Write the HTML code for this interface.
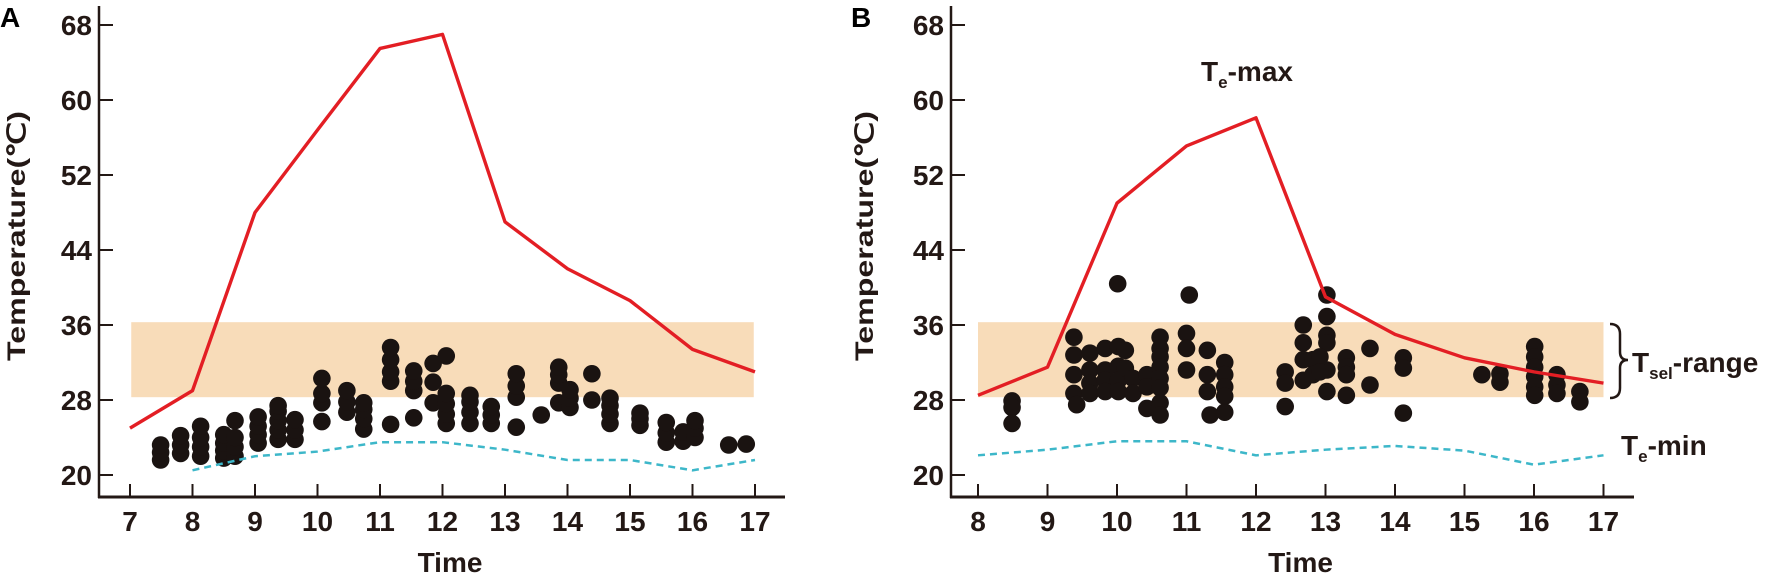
<!DOCTYPE html>
<html><head><meta charset="utf-8"><style>
html,body{margin:0;padding:0;background:#fff;}
svg{display:block;font-family:"Liberation Sans",sans-serif;}
</style></head><body>
<svg id="chart" width="1772" height="581" xmlns="http://www.w3.org/2000/svg"></svg>
<script>
// ---------- Panel A data ----------
const hoursA = [7,8,9,10,11,12,13,14,15,16,17];
const teMaxA = [25,29,48,56.8,65.5,67,47,42,38.6,33.4,31];
const teMinHoursA = [8,9,10,11,12,13,14,15,16,17];
const teMinA = [20.5,22,22.5,23.5,23.5,22.7,21.6,21.6,20.5,21.6];
const dotTimeA = [7.49,7.49,7.49,7.81,7.81,7.81,8.13,8.13,8.13,8.13,8.5,8.5,8.5,8.5,8.68,8.68,8.68,8.68,
 9.05,9.05,9.05,9.05,9.37,9.37,9.37,9.37,9.37,9.64,9.64,9.64,10.07,10.07,10.07,10.07,10.47,10.47,10.47,
 10.74,10.74,10.74,10.74,11.17,11.17,11.17,11.17,11.17,11.54,11.54,11.54,11.54,11.85,11.85,11.85,
 12.06,12.06,12.06,12.06,12.06,12.44,12.44,12.44,12.44,12.78,12.78,12.78,13.18,13.18,13.18,13.18,
 13.58,13.86,13.86,13.86,13.86,14.04,14.04,14.04,14.39,14.39,14.68,14.68,14.68,14.68,
 15.16,15.16,15.16,15.58,15.58,15.58,15.85,15.85,16.04,16.04,16.04,16.58,16.86];
const dotTempA = [21.6,22.4,23.2,22.3,23.2,24.2,22,23,24,25.2,21.8,22.6,23.4,24.3,22,23,24,25.8,
 23.4,24.3,25.2,26.2,23.8,24.8,25.8,26.8,27.4,23.8,24.8,25.9,25.7,27.7,28.7,30.3,26.7,27.8,29,
 24.9,26,27,27.7,25.4,30,31,32.3,33.6,26.1,29,30,31.1,27.7,29.9,31.9,
 25.5,26.5,27.6,28.7,32.7,25.5,26.7,27.8,28.5,25.5,26.4,27.3,25.1,28.3,29.5,30.8,
 26.4,27.7,29.8,30.7,31.5,27.2,28.2,29.1,28,30.8,25.5,26.5,27.4,28.2,
 25.3,26,26.6,23.5,24.5,25.6,23.6,24.6,24,25,25.8,23.2,23.3];
// ---------- Panel B data ----------
const hoursB = [8,9,10,11,12,13,14,15,16,17];
const teMaxB = [28.5,31.5,49,55.1,58.1,39,35,32.5,31,29.8];
const teMinB = [22.1,22.7,23.6,23.6,22.1,22.7,23.1,22.6,21.1,22.1];
const dotTimeB = [8.49,8.49,8.49,10.01,11.04,9.38,9.38,9.38,9.38,9.42,9.61,9.61,9.61,9.61,9.83,9.83,9.83,9.83,
 10.02,10.02,10.02,10.02,10.12,10.12,10.23,10.23,10.43,10.43,10.43,10.62,10.62,10.62,10.62,10.62,10.62,10.62,10.62,
 11.0,11.0,11.0,11.3,11.3,11.3,11.34,11.55,11.55,11.55,11.55,11.55,12.42,12.42,12.42,12.68,12.68,12.68,12.68,
 12.82,12.82,13.02,13.02,13.02,13.02,13.02,13.02,12.92,12.92,13.3,13.3,13.3,13.3,13.64,13.64,14.12,14.12,14.12,
 15.25,15.51,15.51,16.01,16.01,16.01,16.01,16.01,16.01,16.33,16.33,16.33,16.66,16.66];
const dotTempB = [27.9,27.2,25.5,40.4,39.2,34.7,32.8,30.7,28.7,27.5,33,31.2,29.8,28.7,33.5,31.2,30.1,28.9,
 33.7,31.6,30.1,28.9,33.3,31.4,30.3,28.7,30.7,29.4,27.1,34.7,33.5,32.6,31.5,30.3,29.3,27.7,26.4,
 35.1,33.5,31.2,33.3,30.7,28.9,26.4,32,30.7,29.4,28.4,26.7,31,29.8,27.3,36,34.1,32.3,30.1,
 32.3,30.7,39.2,36.9,34.9,34.1,31.2,28.9,32.6,31,32.5,31.5,30.7,28.5,33.5,29.6,32.5,31.4,26.6,
 30.7,30.8,29.9,33.7,32.6,31.5,30.5,29.4,28.5,30.7,29.6,28.7,28.9,27.8];
const yTicks = [20,28,36,44,52,60,68];
const xTicksA = ["7","8","9","10","11","12","13","14","15","16","17"];
const xTicksB = ["8","9","10","11","12","13","14","15","16","17"];
const bandLow = 28.3, bandHigh = 36.3;

const NS = "http://www.w3.org/2000/svg";
const svg = document.getElementById('chart');
function mk(tag, attrs, parent, text){
  const e = document.createElementNS(NS, tag);
  for (const k in attrs) e.setAttribute(k, attrs[k]);
  if (text !== undefined) e.textContent = text;
  (parent || svg).appendChild(e);
  return e;
}
const yScale = v => 475 - (v - 20) * 9.375;

function panel(cfg){
  const g = mk('g', {});
  
  
  const xs = v => cfg.x0 + (v - cfg.t0) * cfg.step;
  const band = mk('rect', {x: xs(cfg.bandStart), y: yScale(bandHigh), width: xs(cfg.bandEnd) - xs(cfg.bandStart), height: yScale(bandLow) - yScale(bandHigh), fill: '#f8dcb9'}, g);
  
  
  const ya = mk('line', {x1: cfg.axisX, y1: 6, x2: cfg.axisX, y2: 498, stroke: '#231815', 'stroke-width': 2.5}, g);
  
  
  const xa = mk('line', {x1: cfg.axisX - 1, y1: 497, x2: cfg.axisEnd, y2: 497, stroke: '#231815', 'stroke-width': 3}, g);
  
  
  yTicks.forEach(v => {
    const t = mk('line', {x1: cfg.axisX, y1: yScale(v), x2: cfg.axisX + 14, y2: yScale(v), stroke: '#231815', 'stroke-width': 2}, g);
    
    
    const l = mk('text', {x: cfg.axisX - 7, y: yScale(v) + 10, 'text-anchor': 'end', 'font-size': 28, 'font-weight': 'bold', fill: '#231815'}, g, String(v));
    
    
  });
  cfg.xTicks.forEach(s => {
    const v = Number(s);
    const t = mk('line', {x1: xs(v), y1: 484, x2: xs(v), y2: 497, stroke: '#231815', 'stroke-width': 2}, g);
    
    
    const l = mk('text', {x: xs(v), y: 531, 'text-anchor': 'middle', 'font-size': 28, 'font-weight': 'bold', fill: '#231815'}, g, s);
    
    
  });
  const xt = mk('text', {x: (cfg.axisX + cfg.axisEnd) / 2 + 8, y: 572, 'text-anchor': 'middle', 'font-size': 28, 'font-weight': 'bold', fill: '#231815'}, g, 'Time');
  
  
  const yt = mk('text', {x: 0, y: 0, transform: `translate(${cfg.yTitleX},236) rotate(-90)`, 'text-anchor': 'middle', 'font-size': 25, 'font-weight': 'bold', fill: '#231815', textLength: 250, lengthAdjust: 'spacingAndGlyphs'}, g, 'Temperature(℃)');
  
  
  const pl = mk('text', {x: cfg.letterX, y: 27, 'font-size': 28, 'font-weight': 'bold', fill: '#000'}, g, cfg.letter);
  
  
  cfg.dotT.forEach((t, i) => {
    const c = mk('circle', {cx: xs(t), cy: yScale(cfg.dotV[i]), r: 8.8, fill: '#1a1311'}, g);
    
    
  });
  const minPts = cfg.minH.map((h, i) => xs(h) + ',' + yScale(cfg.minV[i])).join(' ');
  const mn = mk('polyline', {points: minPts, fill: 'none', stroke: '#3db7c9', 'stroke-width': 2.5, 'stroke-dasharray': '7 5'}, g);
  
  
  const maxPts = cfg.maxH.map((h, i) => xs(h) + ',' + yScale(cfg.maxV[i])).join(' ');
  const mx = mk('polyline', {points: maxPts, fill: 'none', stroke: '#e31e24', 'stroke-width': 3.4, 'stroke-linejoin': 'round'}, g);
  
  
  return g;
}

panel({name: 'panel-a', x0: 130, t0: 7, step: 62.5, axisX: 99, axisEnd: 785, bandStart: 7.02, bandEnd: 16.98,
  xTicks: xTicksA, yTitleX: 25, letter: 'A', letterX: 0,
  dotT: dotTimeA, dotV: dotTempA, minH: teMinHoursA, minV: teMinA, maxH: hoursA, maxV: teMaxA});
const gB = panel({name: 'panel-b', x0: 978, t0: 8, step: 69.5, axisX: 951, axisEnd: 1634, bandStart: 8, bandEnd: 17,
  xTicks: xTicksB, yTitleX: 873, letter: 'B', letterX: 851,
  dotT: dotTimeB, dotV: dotTempB, minH: hoursB, minV: teMinB, maxH: hoursB, maxV: teMaxB});

const a1 = mk('text', {x: 1247, y: 81, 'text-anchor': 'middle', 'font-size': 28, 'font-weight': 'bold', fill: '#231815'}, gB);


a1.innerHTML = 'T<tspan font-size="17" dy="7">e</tspan><tspan dy="-7">-max</tspan>';
const a2 = mk('text', {x: 1621, y: 455, 'font-size': 28, 'font-weight': 'bold', fill: '#231815'}, gB);


a2.innerHTML = 'T<tspan font-size="17" dy="7">e</tspan><tspan dy="-7">-min</tspan>';
const br = mk('path', {d: 'M1610,324 Q1620,324 1620,334 L1620,352 Q1620,360 1628,360 Q1620,360 1620,368 L1620,388 Q1620,398 1610,398', fill: 'none', stroke: '#231815', 'stroke-width': 2.5}, gB);


const a3 = mk('text', {x: 1632, y: 372, 'font-size': 28, 'font-weight': 'bold', fill: '#231815'}, gB);


a3.innerHTML = 'T<tspan font-size="17" dy="7">sel</tspan><tspan dy="-7">-range</tspan>';
</script>
</body></html>
